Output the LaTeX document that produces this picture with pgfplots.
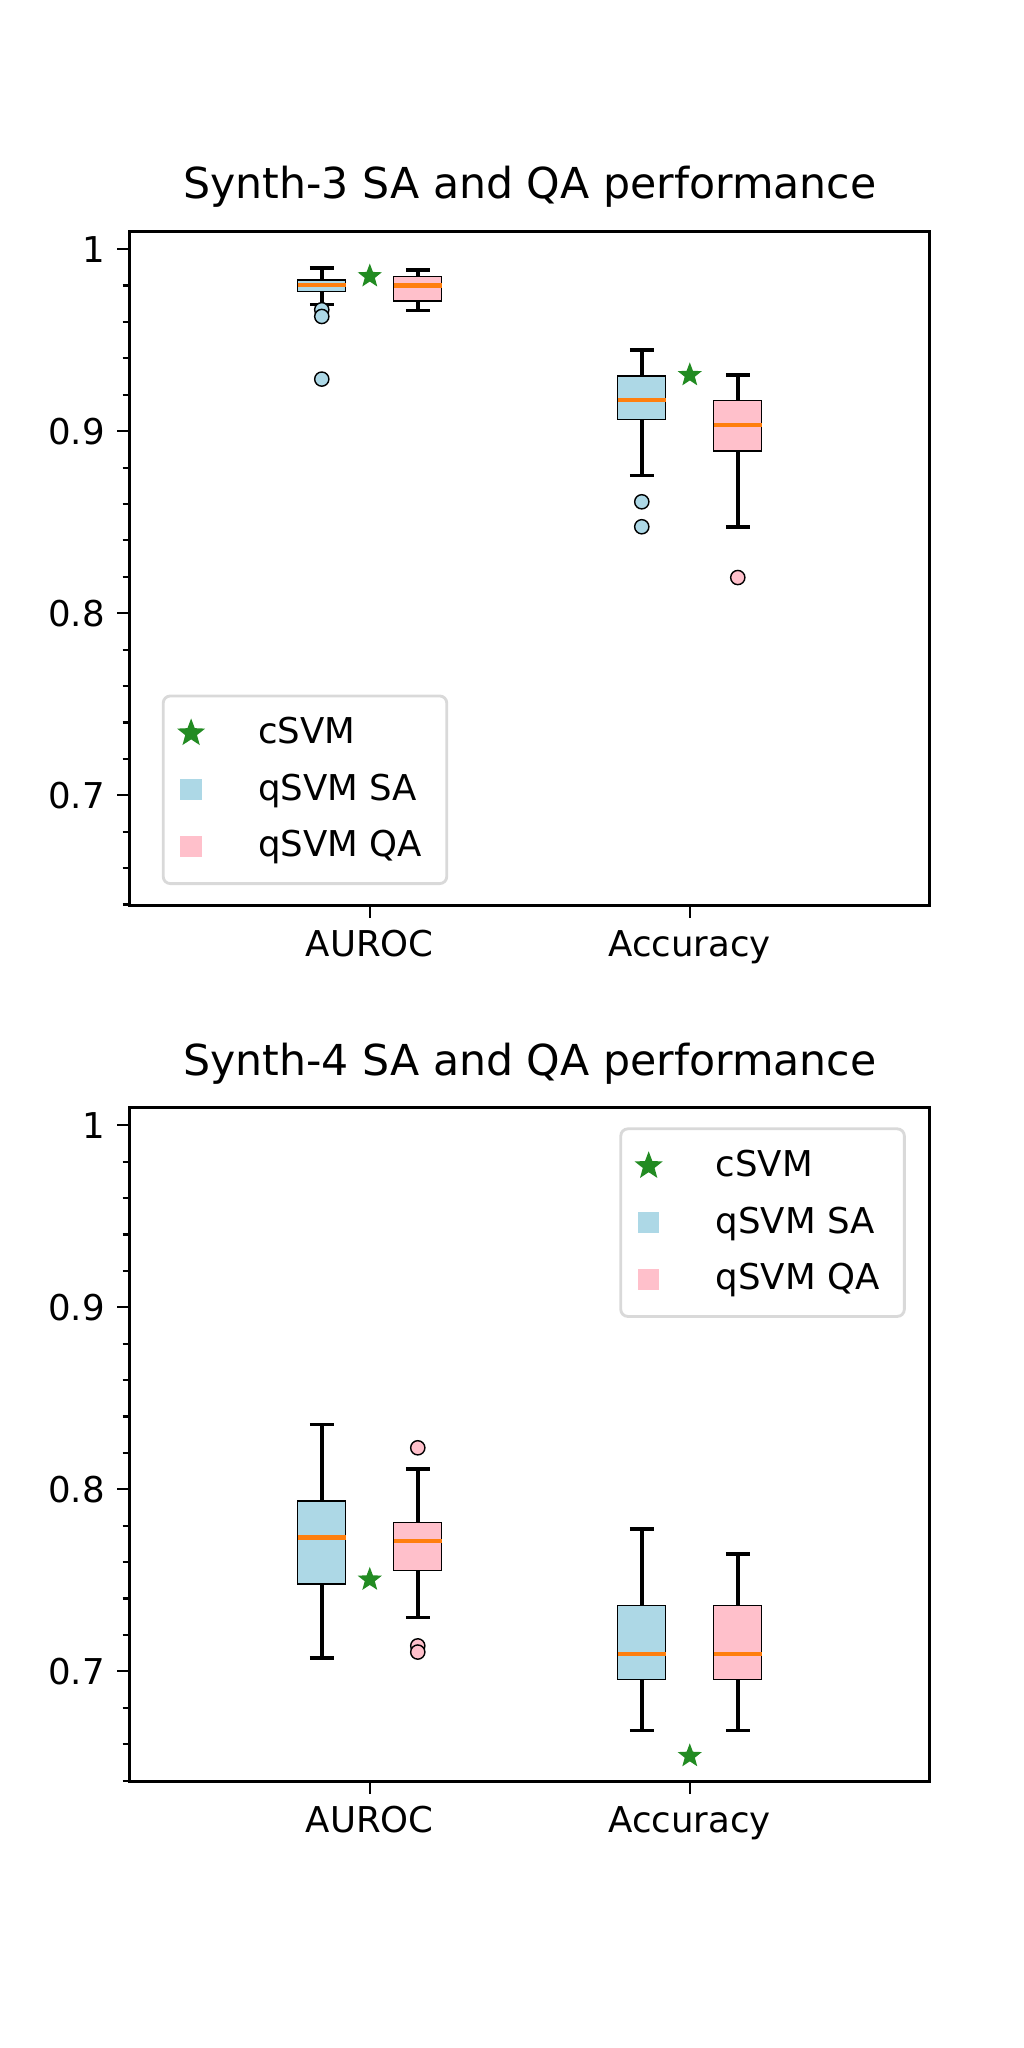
\documentclass[border=0pt]{standalone}
\usepackage{pgfplots}
\pgfplotsset{compat=1.18}
\usepgfplotslibrary{statistics}
\usepackage{fontspec}
\setmainfont{DejaVu Sans}
\definecolor{sa}{HTML}{ADD8E6}
\definecolor{qa}{HTML}{FFC0CB}
\definecolor{med}{HTML}{FF7F0E}
\definecolor{cs}{HTML}{228B22}
\pgfdeclareplotmark{fstar}{%
\pgfpathmoveto{\pgfpointpolar{90}{\pgfplotmarksize}}%
\pgfpathlineto{\pgfpointpolar{126}{0.42\pgfplotmarksize}}%
\pgfpathlineto{\pgfpointpolar{162}{\pgfplotmarksize}}%
\pgfpathlineto{\pgfpointpolar{198}{0.42\pgfplotmarksize}}%
\pgfpathlineto{\pgfpointpolar{234}{\pgfplotmarksize}}%
\pgfpathlineto{\pgfpointpolar{270}{0.42\pgfplotmarksize}}%
\pgfpathlineto{\pgfpointpolar{306}{\pgfplotmarksize}}%
\pgfpathlineto{\pgfpointpolar{342}{0.42\pgfplotmarksize}}%
\pgfpathlineto{\pgfpointpolar{18}{\pgfplotmarksize}}%
\pgfpathlineto{\pgfpointpolar{54}{0.42\pgfplotmarksize}}%
\pgfpathclose\pgfusepathqfillstroke}
\pgfplotsset{
  myax/.style={
    scale only axis, width=225pt, height=189.6pt,
    xmin=0.25, xmax=2.75, ymin=0.6396, ymax=1.0099,
    xtick={1,2}, xticklabels={AUROC,Accuracy},
    ytick={0.7,0.8,0.9,1}, minor ytick={0.64,0.66,...,1.0},
    tick align=outside, xtick pos=left, ytick pos=left,
    major tick length=3.5pt, minor tick length=2pt,
    every tick/.style={black, line width=0.6pt},
    axis line style={line width=0.8pt},
    ticklabel style={font=\fontsize{10}{12}\selectfont},
    /pgf/number format/assume math mode=true,
    title style={font=\fontsize{12}{14}\selectfont, yshift=-3pt},
    legend style={font=\fontsize{10}{12}\selectfont, draw=black!15, line width=0.8pt, rounded corners=2pt, inner xsep=5pt, inner ysep=4pt, row sep=3pt},
    legend cell align=left,
    boxplot/draw direction=y,
  },
  bx/.style={draw=black, line width=0.4pt, mark=none,
    boxplot/box extend=0.15, boxplot/whisker extend=0.075,
    boxplot/every whisker/.style={line width=1pt},
    boxplot/every median/.style={draw=med, line width=1.2pt}},
  outl/.style={only marks, mark=*, mark size=2pt, draw=black, line width=0.4pt},
  star/.style={only marks, mark=fstar, mark size=3pt, color=cs},
}
\begin{document}
\begin{tikzpicture}
\useasboundingbox (0,0) rectangle (288pt,576pt);
\begin{axis}[myax, at={(36.5pt,321.4pt)}, anchor=south west,
  title={Synth-3 SA and QA performance},
  legend style={at={(0.04,0.03)}, anchor=south west}]
\addlegendimage{star}\addlegendentry{\hspace{14pt}cSVM}
\addlegendimage{only marks, mark=square*, mark size=2.6pt, color=sa}\addlegendentry{\hspace{14pt}qSVM SA}
\addlegendimage{only marks, mark=square*, mark size=2.6pt, color=qa}\addlegendentry{\hspace{14pt}qSVM QA}
\addplot[bx, fill=sa, boxplot prepared={draw position=0.85, lower whisker=0.9696, lower quartile=0.9768, median=0.9804, upper quartile=0.983, upper whisker=0.9895}] coordinates {};
\addplot[bx, fill=qa, boxplot prepared={draw position=1.15, lower whisker=0.9663, lower quartile=0.9714, median=0.980, upper quartile=0.9848, upper whisker=0.9884}] coordinates {};
\addplot[bx, fill=sa, boxplot prepared={draw position=1.85, lower whisker=0.8757, lower quartile=0.9065, median=0.917, upper quartile=0.9304, upper whisker=0.9446}] coordinates {};
\addplot[bx, fill=qa, boxplot prepared={draw position=2.15, lower whisker=0.8475, lower quartile=0.8891, median=0.9033, upper quartile=0.9167, upper whisker=0.9308}] coordinates {};
\addplot[outl, fill=sa] coordinates {(0.85,0.9667) (0.85,0.963) (0.85,0.9286) (1.85,0.8612) (1.85,0.8475)};
\addplot[outl, fill=qa] coordinates {(2.15,0.8196)};
\addplot[star] coordinates {(1,0.9851) (2,0.9308)};
\end{axis}
\begin{axis}[myax, at={(36.5pt,75pt)}, anchor=south west,
  title={Synth-4 SA and QA performance},
  legend style={at={(0.97,0.97)}, anchor=north east}]
\addlegendimage{star}\addlegendentry{\hspace{14pt}cSVM}
\addlegendimage{only marks, mark=square*, mark size=2.6pt, color=sa}\addlegendentry{\hspace{14pt}qSVM SA}
\addlegendimage{only marks, mark=square*, mark size=2.6pt, color=qa}\addlegendentry{\hspace{14pt}qSVM QA}
\addplot[bx, fill=sa, boxplot prepared={draw position=0.85, lower whisker=0.7073, lower quartile=0.748, median=0.7735, upper quartile=0.7936, upper whisker=0.8356}] coordinates {};
\addplot[bx, fill=qa, boxplot prepared={draw position=1.15, lower whisker=0.7295, lower quartile=0.7554, median=0.7715, upper quartile=0.7819, upper whisker=0.8113}] coordinates {};
\addplot[bx, fill=sa, boxplot prepared={draw position=1.85, lower whisker=0.6675, lower quartile=0.6955, median=0.7094, upper quartile=0.7361, upper whisker=0.7782}] coordinates {};
\addplot[bx, fill=qa, boxplot prepared={draw position=2.15, lower whisker=0.6675, lower quartile=0.6955, median=0.7094, upper quartile=0.7361, upper whisker=0.7644}] coordinates {};
\addplot[outl, fill=qa] coordinates {(1.15,0.8228) (1.15,0.714) (1.15,0.7106)};
\addplot[star] coordinates {(1,0.7504) (2,0.6535)};
\end{axis}
\end{tikzpicture}
\end{document}
